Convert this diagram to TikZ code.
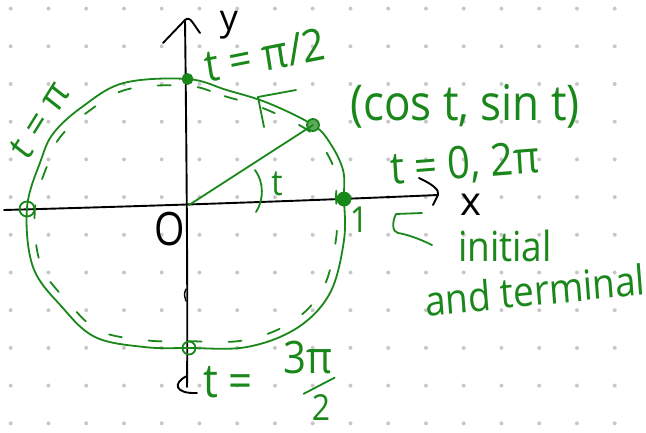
\documentclass[tikz,border=0pt]{standalone}
\usepackage{fontspec}
\setmainfont{Open Sans}
\usetikzlibrary{calc}
\definecolor{pen}{RGB}{25,135,25}
\definecolor{griddot}{RGB}{200,200,200}
\begin{document}
\begin{tikzpicture}[x=1pt,y=-1pt,
  ink/.style={draw=pen, line width=1.8pt, line cap=round, line join=round},
  blk/.style={draw=black, line width=1.9pt, line cap=round, line join=round},
  lbl/.style={text=pen, inner sep=0pt, yscale=1.12},
  fs/.style={font=\fontsize{#1}{#1}\selectfont},
  dotpt/.style={circle, draw=pen, line width=1.8pt, inner sep=0pt, minimum size=#1},
]
\useasboundingbox (0,0) rectangle (646,432);
\fill[white] (0,0) rectangle (646,432);
% dot grid
\foreach \i in {0,...,16}{
  \foreach \j in {0,...,11}{
    \fill[griddot] (10.7+37.75*\i, 8.6+37.7*\j) circle[radius=2pt];
  }
}
% axes
\coordinate (O) at (189,205);
\coordinate (xL) at (4,210);
\coordinate (xR) at (438,195);
\coordinate (yB) at (187,387);
\coordinate (yT) at (185,20);
\draw[blk] (xL) .. controls (150,206) and (300,201) .. (xR);
\draw[blk] (419,178) .. controls (432,184) and (440,190) .. (xR) -- (433,205);
\draw[blk] (yB) .. controls (188,300) and (186,100) .. (yT);
\draw[blk] (163,43) -- (yT) .. controls (190,16) and (192,22) .. (200,33);
\draw[blk] (187,376) .. controls (172,383) and (175,394) .. (197,393);
\draw[blk, line width=1.4pt] (186,289) .. controls (184,294) .. (186,301);
\node[fs=36, text=black, inner sep=0pt] (ylab) at (229,25) {y};
\node[fs=40, text=black, inner sep=0pt] (xlab) at (471,205) {x};
\node[fs=46, text=black, inner sep=0pt, xscale=0.85] (olab) at (170,229) {O};
% circle
\draw[ink] plot[smooth cycle, tension=0.6] coordinates {(187.5,79) (226.6,90) (268,103) (313,125) (330,143) (343,170) (344,198) (344,240) (330,293) (297,328) (247,347) (189.5,348) (144,347) (95,337) (62,307) (33,267) (27,208) (41,160) (53.6,133) (82,107) (123.6,83)};
\begin{scope}[shift={(186,213)}, scale=0.95, shift={(-186,-213)}]
\draw[ink, dash pattern=on 13pt off 27pt] plot[smooth cycle, tension=0.6] coordinates {(187.5,79) (226.6,90) (268,103) (313,125) (330,143) (343,170) (344,198) (344,240) (330,293) (297,328) (247,347) (189.5,348) (144,347) (95,337) (62,307) (33,267) (27,208) (41,160) (53.6,133) (82,107) (123.6,83)};
\end{scope}
\draw[ink] (264,127) -- (258,97) -- (296,90);
% points
\node[dotpt=10pt, fill=pen] (Ptop) at (187.5,79) {};
\node[dotpt=12pt, fill=pen!70] (Pt) at (313,125) {};
\node[dotpt=13pt, fill=pen] (P0) at (344,199) {};
\node[dotpt=13pt, minimum height=15pt] (Ppi) at (27,209) {};
\node[dotpt=13pt] (P3) at (189,348) {};
% radius and angle
\draw[ink] (O) -- (Pt.center);
\draw[ink] (255,170) .. controls (264,182) and (264,200) .. (256,212);
\node[lbl, fs=32] (tang) at (277,184) {t};
\node[lbl, fs=32] (one) at (359,220) {1};
% labels
\node[lbl, fs=40, rotate=10] (lpi2) at (265,55) {t = π/2};
\node[lbl, fs=36, rotate=55] (lpi) at (40,120) {t = π};
\node[lbl, fs=44] (lcs) at (465,106) {(cos t, sin t)};
\node[lbl, fs=40, rotate=4] (l0) at (465,165) {t = 0, 2π};
\node[lbl, fs=37] (linit) at (505,246) {initial};
\node[lbl, fs=37, rotate=5] (lterm) at (535,290) {and terminal};
\node[lbl, fs=42] (l32t) at (228,382) {t =};
\node[lbl, fs=40] (l3pi) at (308,357) {3π};
\node[lbl, fs=32] (l2) at (321,408) {2};
\draw[ink] ($(l2.north west)+(-8,-1)$) -- ($(l3pi.south east)+(2,4)$);
% arrow to initial point
\draw[ink] (432,245) .. controls (418,238) and (405,234) .. (398,233) .. controls (392,232) and (392,222) .. (396,214) -- (422,213);
\end{tikzpicture}
\end{document}
